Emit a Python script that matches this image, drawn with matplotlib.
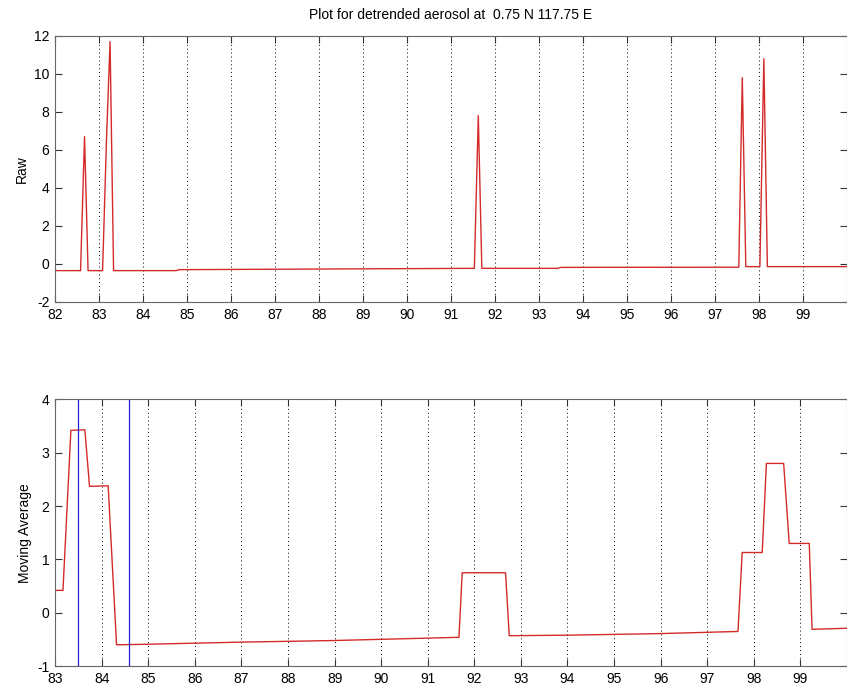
import numpy as np
import matplotlib.pyplot as plt

plt.rcParams["font.family"] = ["Liberation Sans", "DejaVu Sans"]
plt.rcParams["axes.unicode_minus"] = False

# raw series (year, value)
raw_t = [82.00, 82.58, 82.67, 82.75, 83.08, 83.17, 83.25, 83.33, 84.75, 84.83,
         91.53, 91.62, 91.70, 93.42, 93.50, 97.54, 97.62, 97.70, 98.02, 98.11,
         98.19, 100.0]
raw_v = [-0.35, -0.35, 6.7, -0.35, -0.35, 6.6, 11.7, -0.35, -0.35, -0.30,
         -0.23, 7.8, -0.23, -0.23, -0.18, -0.17, 9.8, -0.14, -0.14, 10.8,
         -0.14, -0.14]

# moving average series
ma_t = [83.00, 83.17, 83.34, 83.64, 83.74, 84.14, 84.32, 85.0, 87.0, 89.0,
        91.67, 91.74, 92.67, 92.75, 94.0, 96.0, 97.66, 97.75, 98.18, 98.27,
        98.64, 98.76, 99.19, 99.25, 100.0]
ma_v = [0.42, 0.42, 3.42, 3.43, 2.37, 2.38, -0.60, -0.59, -0.55, -0.52,
        -0.46, 0.75, 0.75, -0.43, -0.42, -0.39, -0.35, 1.13, 1.13, 2.80,
        2.80, 1.30, 1.30, -0.31, -0.29]

markers = [83.5, 84.58]

title = "Plot for detrended aerosol at  0.75 N 117.75 E"


def style_axes(ax, xlo, ylim, yticks):
    ax.set_xlim(xlo, 100)
    ax.set_ylim(*ylim)
    ax.set_xticks(range(xlo, 100))
    ax.set_yticks(yticks)
    ax.tick_params(direction="in", length=5, top=True, right=True,
                   labelsize=10, color="#333333", pad=4)
    ax.xaxis.grid(True, linestyle=(0, (1, 3)), color="black", linewidth=0.7)
    for s in ax.spines.values():
        s.set_color("#666666")


fig = plt.figure(figsize=(8.47, 6.91), dpi=100)
ax1 = fig.add_axes([0.065, 0.563, 0.935, 0.385])
ax2 = fig.add_axes([0.065, 0.036, 0.935, 0.386])

ax1.plot(raw_t, raw_v, color="#d42a2a", linewidth=1.0)
style_axes(ax1, 82, (-2, 12), range(-2, 13, 2))
ax1.set_ylabel("Raw", fontsize=10)
ax1.set_title(title, fontsize=10, pad=12)

ax2.plot(ma_t, ma_v, color="#d42a2a", linewidth=1.0)
for m in markers:
    ax2.axvline(m, color="#2020dd", linewidth=0.9)
style_axes(ax2, 83, (-1, 4), range(-1, 5))
ax2.set_ylabel("Moving Average", fontsize=10)

fig.savefig("out.png", dpi=100)
